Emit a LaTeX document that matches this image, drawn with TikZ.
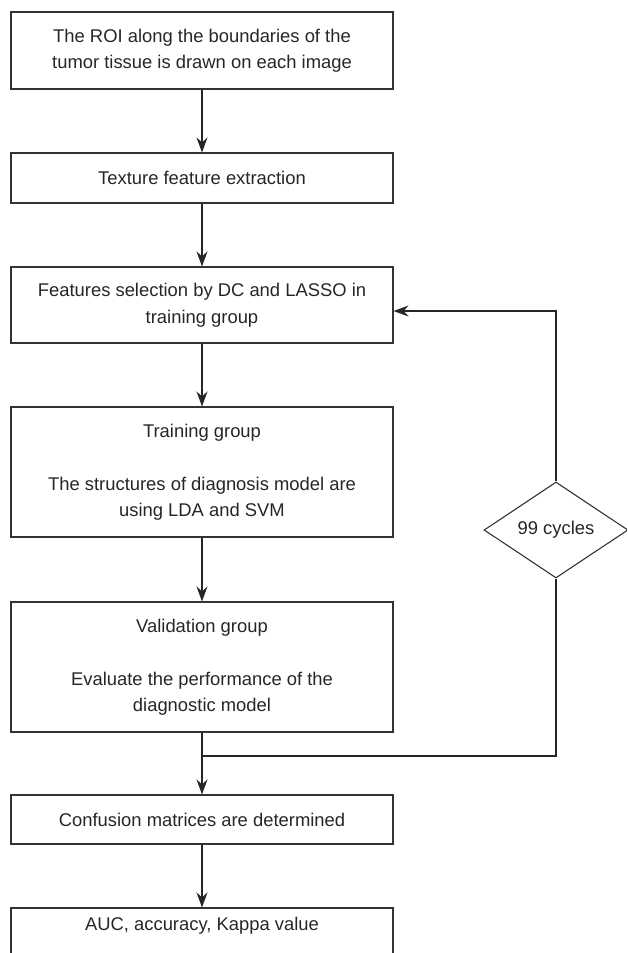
\documentclass[tikz,border=0pt]{standalone}
\usepackage{fontspec}
\setmainfont{Liberation Sans}
\usetikzlibrary{arrows.meta,shapes.geometric}

\begin{document}
\begin{tikzpicture}[x=1pt, y=-1pt, line width=1.1pt,
  every node/.style={font=\fontsize{18.4}{26.5}\selectfont, text=black!85},
  box/.style={draw=black!80, rectangle, minimum width=382pt, align=center, inner sep=0pt},
  arr/.style={-{Stealth[length=15pt, width=11pt, inset=5pt]}, draw=black!85}]
  \clip (0,0) rectangle (627,953);

  % boxes down the left column
  \node[box, minimum height=77pt] (roi) at (202,50.5) {The ROI along the boundaries of the\\tumor tissue is drawn on each image};
  \node[box, minimum height=50pt] (tex) at (202,178) {Texture feature extraction};
  \node[box, minimum height=76pt] (sel) at (202,305) {Features selection by DC and LASSO in\\training group};
  \node[box, minimum height=130pt] (train) at (202,472) {Training group\\[26.5pt]The structures of diagnosis model are\\using LDA and SVM};
  \node[box, minimum height=130pt] (valid) at (202,667) {Validation group\\[26.5pt]Evaluate the performance of the\\diagnostic model};
  \node[box, minimum height=49pt] (conf) at (202,819.5) {Confusion matrices are determined};
  \node[box, minimum height=49pt, text depth=18pt] (auc) at (202,932.5) {AUC, accuracy, Kappa value};

  % loop back
  \node[draw=black!80, diamond, aspect=1.5, minimum width=144pt, minimum height=96pt, inner sep=0pt] (cyc) at (556,530) {99 cycles};
  \coordinate (junc) at (202,756);

  \draw[arr] (roi) -- (tex);
  \draw[arr] (tex) -- (sel);
  \draw[arr] (sel) -- (train);
  \draw[arr] (train) -- (valid);
  \draw[arr] (valid) -- (conf);
  \draw[arr] (conf) -- (auc);
  \draw[arr] (cyc.north) |- ([yshift=-6pt]sel.east);
  \draw[draw=black!85] (cyc.south) |- (junc);
\end{tikzpicture}
\end{document}
